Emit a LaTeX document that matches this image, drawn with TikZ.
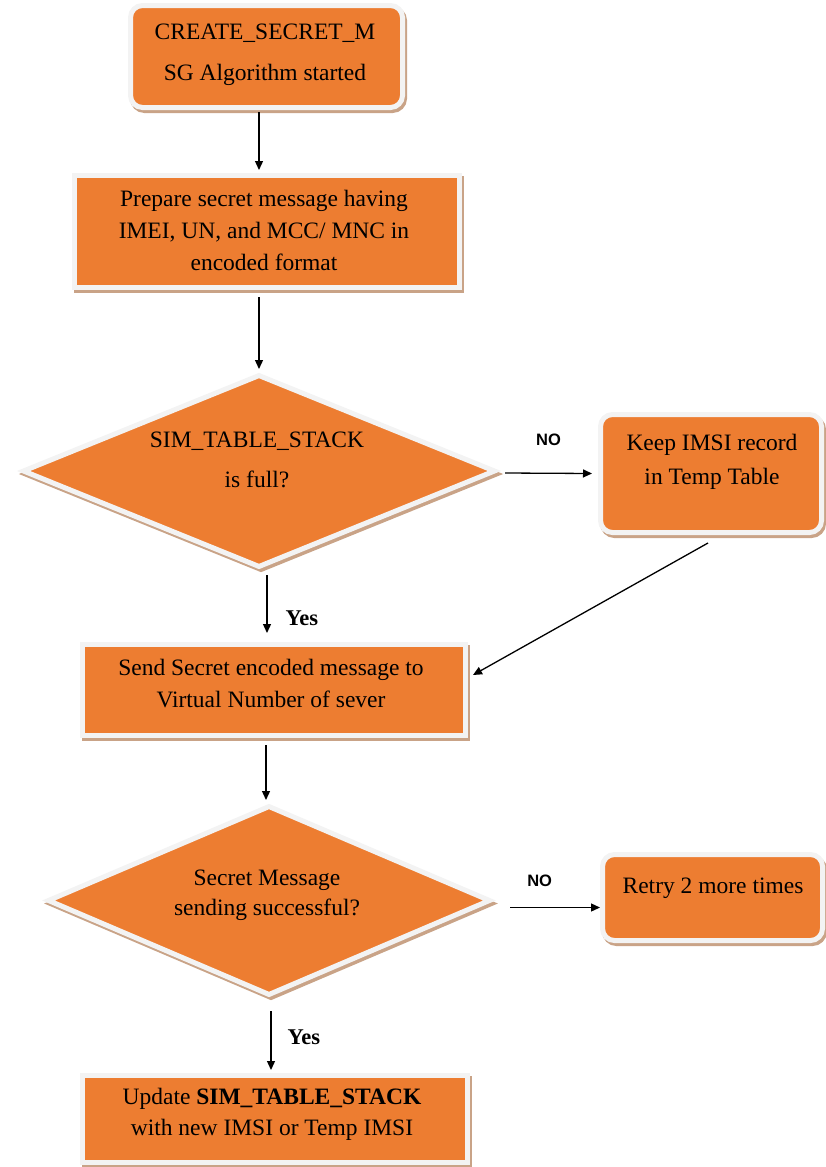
\documentclass[tikz,border=0pt]{standalone}
\usepackage{fontspec}
\setmainfont{Liberation Serif}
\newfontfamily\labelsans{Liberation Sans}
\usetikzlibrary{shapes.geometric,shadows,arrows.meta}
\definecolor{boxorange}{HTML}{ED7D31}
\definecolor{rimgray}{HTML}{F3F3F3}
\definecolor{shadowtan}{HTML}{C9A387}

\begin{document}
\begin{tikzpicture}[x=1pt,y=-1pt,
  shapebase/.style={fill=boxorange, draw=rimgray, line width=5pt, inner sep=0pt,
    drop shadow={shadow xshift=2pt, shadow yshift=-3pt, fill=shadowtan,
      draw=shadowtan, line width=5pt, opacity=1}},
  sbox/.style={shapebase, rectangle},
  rbox/.style={shapebase, rectangle, rounded corners=12pt},
  dbox/.style={shapebase, diamond},
  txt/.style={font=\fontsize{23.5}{27}\selectfont, align=center, inner sep=0pt},
  yeslab/.style={font=\fontsize{22.5}{26}\selectfont\bfseries, inner sep=0pt, anchor=west},
  nolab/.style={font=\labelsans\bfseries\fontsize{16.5}{19}\selectfont, inner sep=0pt},
  arr/.style={line width=1.3pt, -{Triangle[length=9pt,width=8pt]}}
]
\useasboundingbox (0,0) rectangle (825,1167);

% shapes
\node[rbox, minimum width=272pt, minimum height=102pt] (b1) at (266.5,56.5) {};
\node[sbox, minimum width=385pt, minimum height=112pt] (b2) at (267,231.5) {};
\node[dbox, minimum width=473pt, minimum height=193pt] (d1) at (259,471) {};
\node[rbox, minimum width=221pt, minimum height=118pt] (k) at (711,473.5) {};
\node[sbox, minimum width=383pt, minimum height=91pt] (b3) at (274,690) {};
\node[dbox, minimum width=443pt, minimum height=190pt] (d2) at (269,900.5) {};
\node[rbox, minimum width=220pt, minimum height=86pt] (r) at (712.5,897.5) {};
\node[sbox, minimum width=385pt, minimum height=87pt] (bl) at (275,1119) {};

% texts
\node[txt] (t1) at (265,55) {CREATE\_SECRET\_M\\[14pt]SG Algorithm started};
\node[txt] (t2) at (264,230) {Prepare secret message having\\[5pt]IMEI, UN, and MCC/ MNC in\\[5pt]encoded format};
\node[txt] (td1) at (257,460) {SIM\_TABLE\_STACK\\[13pt]is full?};
\node[txt] (tk) at (712,462) {Keep IMSI record\\[7pt]in Temp Table};
\node[txt] (t3) at (271,684) {Send Secret encoded message to\\[5pt]Virtual Number of sever};
\node[txt] (td2) at (267,895) {Secret Message\\[3pt]sending successful?};
\node[txt] (tr) at (713,888) {Retry 2 more times};
\node[txt] (tl) at (272,1114) {Update \textbf{SIM\_TABLE\_STACK}\\[4pt]with new IMSI or Temp IMSI};

% connectors
\draw[arr] ([xshift=-7.5pt,yshift=-2pt]b1.south) -- ([xshift=-8pt,yshift=3pt]b2.north);
\draw[arr] ([xshift=-8pt,yshift=-7pt]b2.south) -- ([yshift=3pt]d1.north);
\draw[arr] ([xshift=8pt,yshift=-5pt]d1.south) -- ([xshift=-7pt,yshift=9pt]b3.north)
  node[yeslab, pos=0.75, xshift=18pt] (y1) {Yes};
\draw[arr] ([xshift=246pt,yshift=-2pt]d1.center) -- ([xshift=-6pt]k.west)
  node[nolab, pos=0.5, yshift=33pt] (n1) {NO};
\draw[arr] ([xshift=-3pt,yshift=-8pt]k.south) -- ([xshift=5pt,yshift=15pt]b3.east);
\draw[arr] ([xshift=-8pt,yshift=-7pt]b3.south) -- ([xshift=-3pt,yshift=3pt]d2.north);
\draw[arr] ([xshift=241pt,yshift=-7pt]d2.center) -- ([yshift=-10pt]r.west)
  node[nolab, pos=0.33, yshift=26.5pt] (n2) {NO};
\draw[arr] ([xshift=2pt,yshift=-13pt]d2.south) -- ([xshift=-4pt,yshift=3pt]bl.north)
  node[yeslab, pos=0.45, xshift=16pt] (y2) {Yes};
\end{tikzpicture}
\end{document}
